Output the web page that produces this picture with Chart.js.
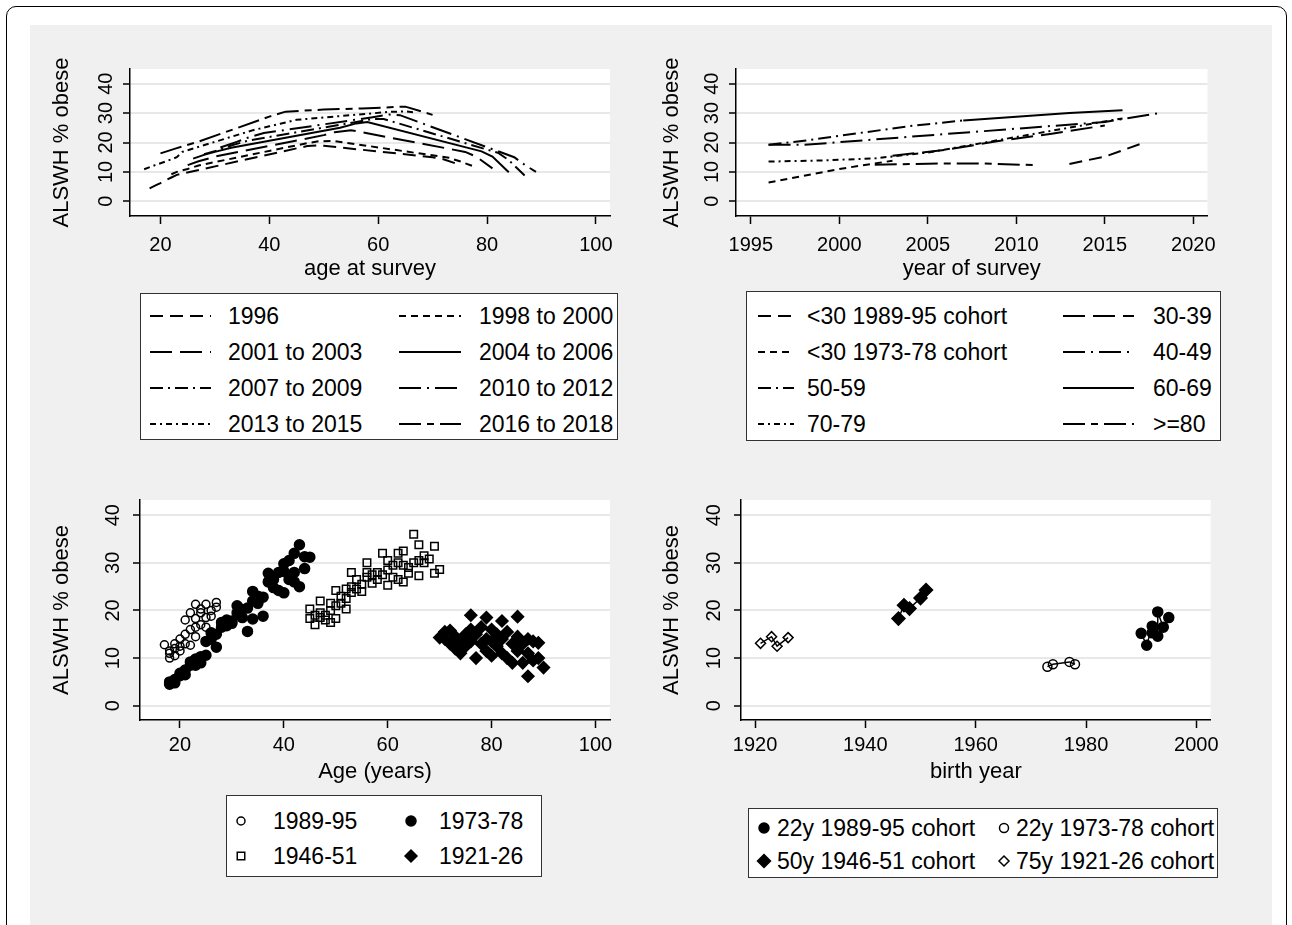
<!DOCTYPE html>
<html lang="en">
<head>
<meta charset="UTF-8">
<title>ALSWH % obese</title>
<script src="https://cdn.jsdelivr.net/npm/chart.js"></script>
<style>
  html, body { margin: 0; width: 1292px; height: 925px; overflow: hidden; background: #fff; }
  body { font-family: "Liberation Sans", Arial, sans-serif; position: relative; }
  #frame { position: absolute; left: 6px; top: 6px; width: 1279px; height: 960px; border: 1.5px solid #000; border-radius: 10px; }
  #bg { position: absolute; left: 30px; top: 25px; width: 1242px; height: 920px; background: #f0f0f0; }
  canvas.panel { position: absolute; }
  .legend { position: absolute; background: #fff; border: 1.5px solid #333; box-sizing: border-box; color: #000; font-size: 23px; }
  .item { position: absolute; height: 30px; line-height: 30px; white-space: nowrap; }
  .item canvas { position: absolute; top: 0; }
  .item span { position: absolute; top: 0; }
</style>
</head>
<body>
<div id="frame"></div>
<div id="bg"></div>
<canvas id="tl" class="panel"></canvas>
<canvas id="tr" class="panel"></canvas>
<canvas id="bl" class="panel"></canvas>
<canvas id="br" class="panel"></canvas>

<script>
const FONT = '"Liberation Sans", Arial, sans-serif';

// ---- data ----
const yTicks = [0, 10, 20, 30, 40];
const ageTicks = [20, 40, 60, 80, 100];
const yearTicks = [1995, 2000, 2005, 2010, 2015, 2020];
const birthTicks = [1920, 1940, 1960, 1980, 2000];

// top left: % obese by age, one line per survey period
const periodLabels = ["1996", "1998 to 2000", "2001 to 2003", "2004 to 2006",
                      "2007 to 2009", "2010 to 2012", "2013 to 2015", "2016 to 2018"];
const s1996 = [[18,4.4],[19,5.3],[20,6.2],[21,7.2],[22,8.1],[23,9],[45,18],[47,18.8],[49,19],[50,18.9],[70,15],[72,14.3],[75,12.4]];
const s1998 = [[22,9.2],[23,10],[25,11],[27,12.2],[47,19.8],[49,20.4],[52,20.5],[73,14.8],[75,13.6],[78,11.6]];
const s2001 = [[25,12.3],[27,13.6],[30,15.2],[50,22.5],[52,23.5],[55,24.2],[76,16.8],[78,15.2],[81,11.2]];
const s2004 = [[26,14.5],[28,15.8],[30,16.8],[33,18.2],[53,25],[56,26.5],[58,27],[79,17],[81,15.2],[84,9.9]];
const s2007 = [[28,16],[31,17.6],[33,19],[36,20.6],[56,27],[59,28],[61,28],[82,16.5],[84,14],[87,8.6]];
const s2010 = [[31,18.3],[34,20.2],[36,21.6],[39,23.2],[59,28.6],[62,29.5],[64,29.3],[85,15],[87,12.3],[89,10]];
const s2013 = [[17,10.9],[19,12.3],[21,13.6],[23,15],[24,16.8],[37,24.2],[40,25.5],[42,26.4],[45,27.7],[62,30.4],[65,30.6],[67,30.2]];
const s2016 = [[20,16.3],[23,18.1],[27,20.3],[40,28.8],[43,30.5],[50,31.2],[57,31.6],[65,32.2],[70,29.4]];
const periodSeries = [s1996, s1998, s2001, s2004, s2007, s2010, s2013, s2016];

// top right: % obese by survey year, one line per age group
const groupLabels = ["<30 1989-95 cohort", "30-39", "<30 1973-78 cohort", "40-49",
                     "50-59", "60-69", "70-79", ">=80"];
const gU30a = [[2013,12.7],[2015,15.2],[2017,19.5]];
const g3039 = [[2003,15.5],[2006,17.5],[2009,20.5],[2012,23],[2015,25.8]];
const gU30b = [[1996,6.4],[2000,11],[2003,13.8]];
const g4049 = [[1996,19.2],[1998,19.2],[2015,27],[2018,29.9]];
const g5059 = [[1996,19.2],[1998,20.6],[2001,23.1],[2004,25.6],[2007,27.5]];
const g6069 = [[2007,27.5],[2010,28.8],[2013,30],[2016,31]];
const g7079 = [[1996,13.5],[1999,13.9],[2002,14.6],[2005,16.6],[2016,28.2]];
const g80 = [[2002,12.4],[2005,12.8],[2008,12.9],[2011,12.3]];
const groupSeries = [gU30a, g3039, gU30b, g4049, g5059, g6069, g7079, g80];

// bottom left: % obese by age, per cohort
const cohortLabels = ["1989-95", "1973-78", "1946-51", "1921-26"];
const c8995 = [[17,12.8],[18,10],[18,11],[18,11.5],[19,10.5],[19,12],[19,13],[20,11.5],[20,12.5],[20,14],[21,13],[21,15],[21,18],
  [22,12.7],[22,16],[22,19.5],[23,14.5],[23,16.5],[23,18.3],[23,21.3],[24,17],[24,19.5],[24,20.3],[25,16.5],[25,18.5],[25,21.3],
  [26,18.8],[26,20],[27,20.7],[27,21.7]];
const c7378 = [[18,4.5],[18,5],[19,4.8],[19,5.5],[20,6.3],[20,6.8],[21,6.5],[21,7.5],[22,8.5],[22,9.2],[23,8.5],[23,9.8],[24,9],[24,10.3],
  [25,10.6],[25,13.5],[26,14],[26,15.3],[27,12.3],[27,15],[28,16.5],[28,17.5],[29,18],[29,16.8],[30,17.3],[30,17.8],[31,21],[31,19.5],
  [32,20.2],[32,18.5],[33,15.6],[33,20.5],[34,24],[34,18.2],[34,22],[35,21.5],[35,23],[36,18.8],[36,22.8],[37,27.8],[37,26],[38,26.5],
  [38,24.8],[39,24.2],[39,28],[40,29.8],[40,28.2],[40,23.7],[41,30.5],[41,26.5],[42,32],[42,28],[42,26],[43,33.8],[43,25],[44,28.8],
  [44,31.3],[45,31.2]];
const c4651 = [[45,18.3],[45,20.3],[46,17],[46,19],[47,22],[47,18.5],[47,19.5],[48,19],[48,18],[49,17.5],[49,20],[49,21.5],[50,18.3],
  [50,21],[50,24.2],[51,23],[51,21.5],[52,20.3],[52,22.5],[52,24.5],[53,28],[53,25],[53,23.8],[54,24.5],[54,26.5],[55,24],[55,25.5],
  [56,30],[56,27],[56,28],[57,25.7],[57,27.5],[58,26.5],[58,28],[59,32],[59,27.5],[60,25.3],[60,28.5],[60,30.5],[61,27],[61,29.5],
  [62,26.5],[62,32],[62,30],[63,32.5],[63,26],[63,29.5],[64,29],[64,27.8],[65,36],[65,30],[66,33.8],[66,27.3],[66,30.5],[67,31.5],
  [67,30],[68,30.8],[69,33.5],[69,27.8],[70,28.6]];
const c2126 = [[70,14.3],[71,15.5],[71,14],[72,15.8],[72,13],[73,14.5],[73,12],[74,13.5],[74,11],[75,15],[75,12.5],[76,19],[76,16],
  [76,13.5],[77,10],[77,15],[78,13],[78,16.5],[79,18.5],[79,14],[79,11.5],[80,16],[80,13.5],[80,10.5],[81,15],[81,12.5],[82,17.8],
  [82,14],[82,11],[83,10],[83,15.5],[84,13],[84,9],[85,18.7],[85,14.5],[85,11.5],[86,13],[86,9],[87,6.2],[87,14],[87,11],[88,13.5],
  [88,9.5],[89,13.2],[89,10],[90,8]];
const cohortSeries = [c8995, c7378, c4651, c2126];

// bottom right: % obese by birth year at a fixed age
const birthLabels = ["22y 1989-95 cohort", "22y 1973-78 cohort", "50y 1946-51 cohort", "75y 1921-26 cohort"];
const b8995 = [[1990,15.2],[1991,12.7],[1992,16.7],[1992,15.3],[1993,14.6],[1993,19.7],[1994,16.5],[1995,18.5]];
const b7378 = [[1973,8.2],[1974,8.7],[1977,9.2],[1978,8.7]];
const b4651 = [[1946,18.3],[1947,21.1],[1948,20.4],[1950,22.6],[1951,24.3]];
const b2126 = [[1921,13.1],[1923,14.5],[1924,12.5],[1926,14.3]];
const birthSeries = [b8995, b7378, b4651, b2126];

// ---- styles ----
const DASH = { dash: [13, 7], short: [7, 5], long: [22, 8], solid: [], dashdot: [13, 5, 2, 5],
               longdot: [22, 6, 2, 6], shortdot: [6, 4, 2, 4], longshort: [22, 6, 7, 6] };
const periodDash = [DASH.dash, DASH.short, DASH.long, DASH.solid, DASH.dashdot, DASH.longdot, DASH.shortdot, DASH.longshort];
const groupDash = [DASH.dash, DASH.long, DASH.short, DASH.longdot, DASH.dashdot, DASH.solid, DASH.shortdot, DASH.longshort];
const cohortMarks = [
  { style: 'circle', r: 4, fill: 'rgba(0,0,0,0)' },
  { style: 'circle', r: 5, fill: '#000' },
  { style: 'rect', r: 5.3, fill: 'rgba(0,0,0,0)' },
  { style: 'rectRot', r: 6, fill: '#000' }
];
const birthMarks = [
  { style: 'circle', r: 5, fill: '#000' },
  { style: 'circle', r: 4.5, fill: 'rgba(0,0,0,0)' },
  { style: 'rectRot', r: 6.5, fill: '#000' },
  { style: 'rectRot', r: 5, fill: 'rgba(0,0,0,0)' }
];

const toXY = arr => arr.map(p => ({ x: p[0], y: p[1] }));

const plotBg = {
  id: 'plotBg',
  beforeDraw(chart) {
    const { ctx, chartArea: a } = chart;
    ctx.save();
    ctx.fillStyle = '#fff';
    ctx.fillRect(a.left, a.top, a.right - a.left, a.bottom - a.top);
    ctx.restore();
  }
};

// stata style y tick labels, turned 90 degrees
const rotatedYTicks = {
  id: 'rotatedYTicks',
  afterDraw(chart, args, opts) {
    const ys = chart.scales.y, ctx = chart.ctx;
    ctx.save();
    ctx.fillStyle = '#000';
    ctx.font = '20px ' + FONT;
    ctx.textAlign = 'center';
    ctx.textBaseline = 'middle';
    ys.ticks.forEach(t => {
      ctx.save();
      ctx.translate(chart.chartArea.left - opts.offset, ys.getPixelForValue(t.value));
      ctx.rotate(-Math.PI / 2);
      ctx.fillText(String(t.value), 0, 0);
      ctx.restore();
    });
    ctx.restore();
  }
};

function makeOptions(p) {
  return {
    responsive: false,
    animation: false,
    layout: { padding: { top: p.padTop, right: p.padRight, left: 0, bottom: 0 } },
    plugins: { legend: { display: false }, tooltip: { enabled: false }, rotatedYTicks: { offset: p.yLabelOffset } },
    scales: {
      x: {
        type: 'linear', min: p.xMin, max: p.xMax,
        afterBuildTicks: s => { s.ticks = p.xTicks.map(v => ({ value: v })); },
        afterFit: s => { s.height = p.xHeight; },
        grid: { drawOnChartArea: false, tickLength: 8, tickColor: '#000', tickWidth: 1.5 },
        border: { color: '#000', width: 1.5 },
        ticks: { color: '#000', font: { size: 20, family: FONT }, padding: p.xTickPad, maxRotation: 0, autoSkip: false,
                 callback: v => String(v) },
        title: { display: true, text: p.xTitle, color: '#000', font: { size: 22, family: FONT }, padding: { top: 0, bottom: p.xTitlePad } }
      },
      y: {
        type: 'linear', min: p.yMin, max: p.yMax,
        afterBuildTicks: s => { s.ticks = yTicks.map(v => ({ value: v })); },
        afterFit: s => { s.width = p.yWidth; },
        grid: { color: '#e8e8e8', lineWidth: 2, tickLength: 7, tickColor: '#000', tickWidth: 1.5 },
        border: { color: '#000', width: 1.5 },
        ticks: { display: false },
        title: { display: true, text: 'ALSWH % obese', color: '#000', font: { size: 22, family: FONT }, padding: { top: 13.8, bottom: 0 } }
      }
    }
  };
}

function setupCanvas(id, p) {
  const cv = document.getElementById(id);
  cv.width = p.width; cv.height = p.height;
  cv.style.left = p.left + 'px'; cv.style.top = p.top + 'px';
  return cv;
}

function drawLineSample(cv, ds) {
  const c = cv.getContext('2d');
  c.strokeStyle = '#000';
  c.lineWidth = ds.borderWidth;
  c.setLineDash(ds.borderDash);
  c.beginPath(); c.moveTo(0, 15); c.lineTo(cv.width, 15); c.stroke();
}

function drawPointSample(cv, ds) {
  const c = cv.getContext('2d');
  c.fillStyle = ds.pointBackgroundColor;
  c.strokeStyle = '#000';
  c.lineWidth = ds.pointBorderWidth;
  Chart.helpers.drawPoint(c, { pointStyle: ds.pointStyle, radius: ds.legendRadius, borderWidth: ds.pointBorderWidth, rotation: 0 }, cv.width / 2, 15);
}

function buildLegend(chart, L) {
  const box = document.createElement('div');
  box.className = 'legend';
  Object.assign(box.style, { left: L.left + 'px', top: L.top + 'px', width: L.width + 'px', height: L.height + 'px' });
  document.body.appendChild(box);
  chart.data.datasets.forEach((ds, i) => {
    const col = L.cols[i % 2], row = Math.floor(i / 2);
    const item = document.createElement('div');
    item.className = 'item';
    item.style.left = '0px';
    item.style.top = (L.rowFirst + row * L.rowGap - 15) + 'px';
    const cv = document.createElement('canvas');
    cv.width = col.sw; cv.height = 30;
    cv.style.left = col.sx + 'px';
    item.appendChild(cv);
    const sp = document.createElement('span');
    sp.textContent = ds.label;
    sp.style.left = col.tx + 'px';
    item.appendChild(sp);
    box.appendChild(item);
    if (L.kind === 'line') drawLineSample(cv, ds); else drawPointSample(cv, ds);
  });
}

// ---- layout ----
const P = {
  tl: { left: 35, top: 40, width: 590, height: 255, yWidth: 95, padTop: 29, padRight: 15, xHeight: 79, xTickPad: 9, xTitlePad: 13,
        yLabelOffset: 24, xMin: 14.4, xMax: 102.6, yMin: -5, yMax: 45, xTicks: ageTicks, xTitle: 'age at survey' },
  tr: { left: 645, top: 40, width: 580, height: 255, yWidth: 91, padTop: 29, padRight: 14.3, xHeight: 79, xTickPad: 9, xTitlePad: 13,
        yLabelOffset: 24, xMin: 1994.16, xMax: 2020.8, yMin: -5, yMax: 45, xTicks: yearTicks, xTitle: 'year of survey' },
  bl: { left: 35, top: 470, width: 590, height: 320, yWidth: 105, padTop: 30, padRight: 15, xHeight: 70, xTickPad: 5, xTitlePad: 5,
        yLabelOffset: 26.5, xMin: 12.3, xMax: 102.8, yMin: -3, yMax: 43.2, xTicks: ageTicks, xTitle: 'Age (years)' },
  br: { left: 645, top: 470, width: 580, height: 320, yWidth: 96, padTop: 30, padRight: 14.3, xHeight: 70, xTickPad: 5, xTitlePad: 5,
        yLabelOffset: 27, xMin: 1917.46, xMax: 2002.6, yMin: -3, yMax: 43.2, xTicks: birthTicks, xTitle: 'birth year' }
};

const LEG = {
  tl: { kind: 'line', left: 140, top: 293, width: 478, height: 147, rowFirst: 22, rowGap: 36,
        cols: [{ sx: 9, sw: 61, tx: 87 }, { sx: 258, sw: 62, tx: 338 }] },
  tr: { kind: 'line', left: 746, top: 291, width: 475, height: 150, rowFirst: 24, rowGap: 36,
        cols: [{ sx: 11, sw: 36, tx: 60 }, { sx: 316, sw: 71, tx: 406 }] },
  bl: { kind: 'point', left: 226, top: 795, width: 316, height: 82, rowFirst: 25, rowGap: 35,
        cols: [{ sx: 4, sw: 20, tx: 46 }, { sx: 174, sw: 20, tx: 212 }] },
  br: { kind: 'point', left: 748, top: 808, width: 470, height: 70, rowFirst: 19, rowGap: 33,
        cols: [{ sx: 5, sw: 20, tx: 28 }, { sx: 245, sw: 20, tx: 267 }] }
};

function lineSets(labels, series, dashes) {
  return series.map((s, i) => ({
    label: labels[i], data: toXY(s), showLine: true, pointRadius: 0,
    borderColor: '#000', backgroundColor: '#000', borderWidth: 2, borderDash: dashes[i], borderCapStyle: 'butt'
  }));
}

function markSets(labels, series, marks, connect) {
  return series.map((s, i) => ({
    label: labels[i], data: toXY(s), showLine: connect, borderColor: '#000', borderWidth: 1.5, borderDash: [],
    pointStyle: marks[i].style, pointRadius: marks[i].r, legendRadius: marks[i].r,
    pointBackgroundColor: marks[i].fill, pointBorderColor: '#000', pointBorderWidth: 1.5
  }));
}

const charts = {};
charts.tl = new Chart(setupCanvas('tl', P.tl), { type: 'scatter', data: { datasets: lineSets(periodLabels, periodSeries, periodDash) },
  options: makeOptions(P.tl), plugins: [plotBg, rotatedYTicks] });
charts.tr = new Chart(setupCanvas('tr', P.tr), { type: 'scatter', data: { datasets: lineSets(groupLabels, groupSeries, groupDash) },
  options: makeOptions(P.tr), plugins: [plotBg, rotatedYTicks] });
charts.bl = new Chart(setupCanvas('bl', P.bl), { type: 'scatter', data: { datasets: markSets(cohortLabels, cohortSeries, cohortMarks, false) },
  options: makeOptions(P.bl), plugins: [plotBg, rotatedYTicks] });
charts.br = new Chart(setupCanvas('br', P.br), { type: 'scatter', data: { datasets: markSets(birthLabels, birthSeries, birthMarks, true) },
  options: makeOptions(P.br), plugins: [plotBg, rotatedYTicks] });

Object.keys(charts).forEach(k => buildLegend(charts[k], LEG[k]));
</script>
</body>
</html>
